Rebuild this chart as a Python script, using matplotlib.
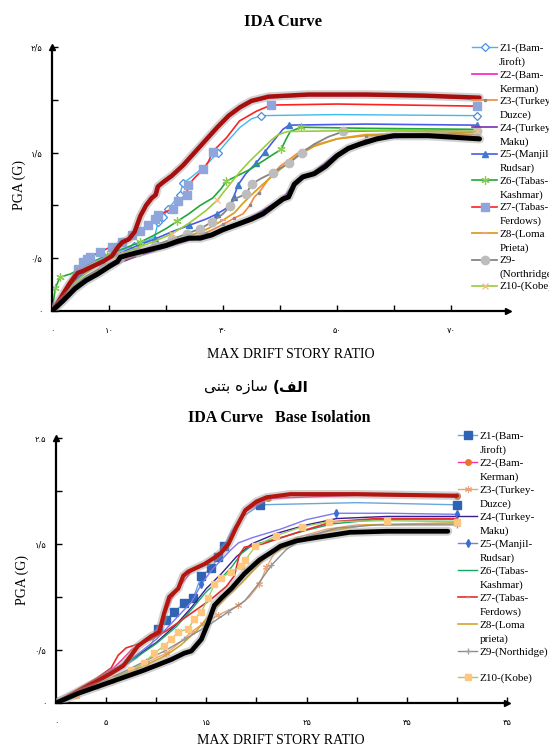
import matplotlib
matplotlib.use("Agg")
import matplotlib.pyplot as plt
import matplotlib.patheffects as pe
from matplotlib import font_manager
from matplotlib.ft2font import FT2Font

W, H = 549, 749

# ---------------- data: top panel (concrete structure) ----------------
top_xticks = [0, 10, 20, 30, 40, 50, 60, 70]
top_xticklabels = ["۰", "۱۰", "", "۳۰", "", "۵۰", "", "۷۰"]
top_yticks = [0, 0.5, 1.0, 1.5, 2.0, 2.5]
top_yticklabels = ["۰", "۰/۵", "", "۱/۵", "", "۲/۵"]
top_labels = ["Z1-(Bam-\nJiroft)", "Z2-(Bam-\nKerman)", "Z3-(Turkey-\nDuzce)",
              "Z4-(Turkey-\nMaku)", "Z5-(Manjil-\nRudsar)", "Z6-(Tabas-\nKashmar)",
              "Z7-(Tabas-\nFerdows)", "Z8-(Loma\nPrieta)", "Z9-\n(Northridge)",
              "Z10-(Kobe)"]

t_hi_x = [0, 1.5, 3, 4.5, 5.5, 7, 9, 10.5, 11.5, 12.3, 13.5, 14.5, 15.5, 16.5, 17.5, 18.2,
          18.6, 19.5, 21, 23, 25, 27, 29, 31, 33, 35, 38, 45, 55, 65, 75]
t_hi_y = [0, 0.12, 0.25, 0.36, 0.38, 0.42, 0.47, 0.52, 0.60, 0.65, 0.68, 0.75, 0.90, 1.00,
          1.07, 1.10, 1.18, 1.22, 1.28, 1.38, 1.50, 1.62, 1.74, 1.85, 1.93, 1.99, 2.03, 2.05,
          2.05, 2.04, 2.02]
t_lo_x = [0, 2, 4, 6, 8, 10, 11.5, 12, 14, 17, 20, 22, 24, 26, 28, 30, 32, 35, 37, 39, 40.5,
          41.5, 42.5, 44, 46, 48, 50, 52, 54, 57, 60, 66, 75]
t_lo_y = [0, 0.10, 0.21, 0.29, 0.35, 0.42, 0.47, 0.51, 0.54, 0.58, 0.62, 0.66, 0.69, 0.69,
          0.72, 0.77, 0.81, 0.87, 0.92, 1.00, 1.06, 1.08, 1.20, 1.27, 1.30, 1.37, 1.47, 1.54,
          1.58, 1.63, 1.66, 1.66, 1.63]

t_z1_x = [0, 3, 6, 9, 12, 14.3, 16.5, 18, 18.6, 19.5, 20.4, 21.5, 22.4, 23, 24.5, 27, 29.1,
          31, 33, 35, 36.7, 50, 74.6]
t_z1_y = [0, 0.25, 0.40, 0.50, 0.57, 0.62, 0.66, 0.70, 0.84, 0.89, 0.97, 1.04, 1.10, 1.21,
          1.27, 1.38, 1.50, 1.62, 1.74, 1.82, 1.85, 1.86, 1.85]
t_z1_m = [14.3, 18.6, 19.5, 20.4, 22.4, 23, 29.1, 36.7, 74.6]

t_z2_x = [0, 1.5, 3, 4.5, 5.5, 7, 9, 10.5, 11.5, 12.3, 13.5, 14.5, 15.5, 16.3, 17.2, 17.9,
          18.3, 19.5, 21, 23, 25, 27, 29, 31, 33, 35, 38, 45, 55, 65, 75]
t_z2_y = [0, 0.13, 0.26, 0.36, 0.39, 0.43, 0.48, 0.53, 0.61, 0.65, 0.68, 0.76, 0.90, 1.00,
          1.07, 1.10, 1.18, 1.21, 1.27, 1.37, 1.49, 1.61, 1.73, 1.84, 1.92, 1.98, 2.02, 2.04,
          2.04, 2.03, 2.01]

t_z3_x = [0, 3, 6, 9, 12, 15, 18, 21, 24, 27, 30, 32, 33.5, 34.7, 35.5, 36.3, 38, 40, 43,
          46, 50, 55, 74.6]
t_z3_y = [0, 0.18, 0.30, 0.40, 0.47, 0.53, 0.58, 0.63, 0.68, 0.74, 0.82, 0.88, 0.92, 1.00,
          1.08, 1.12, 1.25, 1.37, 1.49, 1.57, 1.63, 1.66, 1.67]
t_z3_m = [27, 30, 32, 34.7, 36.3, 55, 74.6]

t_z4_x = [0, 3, 6, 9, 12, 15, 18, 21, 24, 27, 30, 33, 36, 39, 41, 43, 46, 50, 55, 74.6]
t_z4_y = [0, 0.16, 0.28, 0.38, 0.46, 0.52, 0.57, 0.62, 0.67, 0.70, 0.76, 0.84, 0.92, 1.02,
          1.10, 1.24, 1.32, 1.49, 1.62, 1.70]

t_z5_x = [0, 3, 6, 9, 12, 15, 18, 21, 24, 27, 29, 30.5, 31.2, 31.9, 32.6, 34, 35.8, 37.4,
          39, 40.5, 41.6, 55, 74.6]
t_z5_y = [0, 0.24, 0.38, 0.48, 0.55, 0.62, 0.68, 0.75, 0.81, 0.87, 0.92, 0.97, 1.00, 1.08,
          1.19, 1.30, 1.40, 1.51, 1.62, 1.72, 1.76, 1.77, 1.76]
t_z5_m = [18, 24, 29, 31.9, 32.6, 35.8, 37.4, 41.6, 74.6]

t_z6_x = [0, 0.6, 1.4, 3.2, 5, 7, 9.6, 12, 15.4, 18, 20, 22, 24, 26, 28.2, 29.7, 30.6, 32.5,
          34.7, 37, 39, 40.2, 41, 41.8, 43.7, 55, 74.6]
t_z6_y = [0, 0.22, 0.32, 0.35, 0.40, 0.46, 0.53, 0.58, 0.65, 0.72, 0.78, 0.85, 0.92, 1.00,
          1.07, 1.16, 1.23, 1.28, 1.34, 1.42, 1.49, 1.53, 1.62, 1.70, 1.74, 1.73, 1.72]
t_z6_m = [0.6, 1.4, 5, 9.6, 15.4, 22, 30.6, 40.2, 43.7]

t_z7_x = [0, 1.5, 3, 4.5, 5.5, 6.1, 6.7, 8.4, 10.5, 12.2, 14, 15.4, 16.9, 18, 18.6, 21.3,
          22.1, 23.6, 23.9, 25, 26.5, 27.5, 28.2, 30.6, 32.9, 35.8, 38.4, 50, 74.6]
t_z7_y = [0, 0.15, 0.28, 0.40, 0.46, 0.49, 0.51, 0.56, 0.61, 0.65, 0.72, 0.76, 0.81, 0.87,
          0.91, 0.97, 1.04, 1.10, 1.19, 1.26, 1.34, 1.42, 1.51, 1.64, 1.80, 1.89, 1.95, 1.96,
          1.94]
t_z7_m = [4.5, 5.5, 6.1, 6.7, 8.4, 10.5, 12.2, 14, 15.4, 16.9, 18, 18.6, 21.3, 22.1, 23.6,
          23.9, 26.5, 28.2, 38.4, 74.6]

t_z8_x = [0, 3, 6, 9, 12, 15, 18, 21, 24, 27, 30, 32, 33.5, 35, 37, 40, 43, 46, 50, 55, 74.6]
t_z8_y = [0, 0.19, 0.32, 0.42, 0.49, 0.55, 0.60, 0.66, 0.71, 0.77, 0.86, 0.93, 1.02, 1.10,
          1.20, 1.34, 1.47, 1.56, 1.63, 1.67, 1.69]
t_z8_m = [9, 15, 21, 30, 74.6]

t_z9_x = [0, 3, 6, 9, 12, 15, 18, 21, 23.6, 26, 28, 30, 31.2, 32, 34.1, 35, 36.5, 38.7,
          41.6, 43.9, 46, 48.5, 51.1, 60, 74.6]
t_z9_y = [0, 0.20, 0.33, 0.42, 0.50, 0.56, 0.62, 0.68, 0.73, 0.78, 0.84, 0.92, 0.99, 1.06,
          1.11, 1.20, 1.25, 1.31, 1.40, 1.50, 1.58, 1.65, 1.70, 1.71, 1.70]
t_z9_m = [9, 12, 15, 18, 21, 23.6, 26, 28, 31.2, 34.1, 35, 38.7, 41.6, 43.9, 51.1, 74.6]

t_z10_x = [0, 3, 6, 9, 12, 15, 18, 21, 24, 27, 29, 31.2, 33, 34.7, 36.8, 38.5, 39.7, 41.4,
           55, 74.6]
t_z10_y = [0, 0.22, 0.36, 0.47, 0.54, 0.60, 0.66, 0.73, 0.83, 0.95, 1.05, 1.20, 1.32, 1.42,
           1.53, 1.62, 1.67, 1.70, 1.71, 1.70]
t_z10_m = [12, 21, 29, 74.6]

# ---------------- data: bottom panel (base isolation) ----------------
bot_xticks = [0, 5, 10, 15, 20, 25, 30, 35, 40, 45]
bot_xticklabels = ["۰", "۵", "", "۱۵", "", "۲۵", "", "۳۵", "", "۴۵"]
bot_yticks = [0, 0.5, 1.0, 1.5, 2.0, 2.5]
bot_yticklabels = ["۰", "۰/۵", "", "۱/۵", "", "۲.۵"]
bot_labels = ["Z1-(Bam-\nJiroft)", "Z2-(Bam-\nKerman)", "Z3-(Turkey-\nDuzce)",
              "Z4-(Turkey-\nMaku)", "Z5-(Manjil-\nRudsar)", "Z6-(Tabas-\nKashmar)",
              "Z7-(Tabas-\nFerdows)", "Z8-(Loma\nprieta)", "Z9-(Northidge)\n ",
              "Z10-(Kobe)"]

b_hi_x = [0, 2.2, 4, 5.5, 6.7, 7.5, 8.2, 9.5, 10.3, 10.8, 11.3, 12.2, 12.7, 13.2, 14.8,
          15.8, 16.5, 17.2, 18, 18.9, 20, 21, 23.4, 30, 40]
b_hi_y = [0, 0.11, 0.20, 0.28, 0.35, 0.45, 0.54, 0.63, 0.67, 0.85, 1.00, 1.08, 1.20, 1.24,
          1.31, 1.37, 1.42, 1.50, 1.66, 1.82, 1.90, 1.94, 1.97, 1.97, 1.955]
b_lo_x = [0, 2.2, 5.5, 8.8, 11.5, 12.8, 13.5, 14.5, 15.2, 15.8, 16.5, 17.5, 18.8, 20.3,
          21.3, 22.4, 24, 25.9, 29.3, 33, 39.1]
b_lo_y = [0, 0.09, 0.20, 0.31, 0.41, 0.47, 0.49, 0.60, 0.76, 0.92, 0.99, 1.08, 1.22, 1.35,
          1.41, 1.48, 1.53, 1.56, 1.61, 1.62, 1.62]

b_z1_x = [0, 2, 4, 6, 8, 9.5, 10.2, 11, 11.8, 12.8, 13.7, 14.5, 15.5, 16.2, 16.8, 17.5,
          18.5, 20.4, 30, 40]
b_z1_y = [0, 0.10, 0.20, 0.30, 0.42, 0.55, 0.70, 0.78, 0.86, 0.94, 0.99, 1.20, 1.27, 1.38,
          1.48, 1.62, 1.75, 1.87, 1.89, 1.87]
b_z1_m = [10.2, 11, 11.8, 12.8, 13.7, 14.5, 15.5, 16.2, 16.8, 20.4, 40]

b_z2_x = [0, 2, 4, 5.5, 6.5, 7.5, 8.5, 9.5, 10.5, 11.5, 12.5, 13.5, 15, 16.5, 17.5, 18.8,
          21.2, 30, 40]
b_z2_y = [0, 0.12, 0.22, 0.31, 0.40, 0.50, 0.56, 0.62, 0.75, 0.98, 1.12, 1.24, 1.32, 1.43,
          1.56, 1.80, 1.93, 1.96, 1.95]
b_z2_m = [21.2, 40]

b_z3_x = [0, 3, 6, 9, 11, 12.5, 13.5, 14.7, 16.2, 18.2, 19.3, 20.3, 21, 21.7, 22.5, 24, 27,
          30, 40]
b_z3_y = [0, 0.12, 0.25, 0.38, 0.47, 0.58, 0.67, 0.75, 0.83, 0.92, 1.00, 1.12, 1.28, 1.40,
          1.48, 1.56, 1.64, 1.68, 1.69]
b_z3_m = [6, 9, 11, 13.5, 14.7, 16.2, 18.2, 20.3, 21, 40]

b_z4_x = [0, 2, 4, 6, 8, 10, 12, 13.5, 15, 16.5, 18, 19.5, 22, 25, 28, 33, 40]
b_z4_y = [0, 0.11, 0.22, 0.33, 0.44, 0.57, 0.74, 0.90, 1.08, 1.22, 1.38, 1.50, 1.60, 1.68,
          1.74, 1.76, 1.76]

b_z5_x = [0, 2, 4, 6, 8, 10, 12, 13.5, 14.5, 15.5, 16.5, 17.5, 18.2, 19.6, 22.4, 25, 27.9,
          33, 40]
b_z5_y = [0, 0.11, 0.22, 0.33, 0.45, 0.60, 0.80, 0.95, 1.12, 1.25, 1.35, 1.45, 1.51, 1.56,
          1.64, 1.73, 1.79, 1.79, 1.78]
b_z5_m = [14.5, 27.9, 40]

b_z6_x = [0, 2, 4, 6, 8, 10, 12, 13.5, 15, 16.5, 17.5, 18.5, 19.6, 22.4, 25, 27.6, 32, 40]
b_z6_y = [0, 0.11, 0.22, 0.32, 0.43, 0.56, 0.72, 0.88, 1.05, 1.18, 1.28, 1.41, 1.49, 1.56,
          1.63, 1.69, 1.73, 1.73]

b_z7_x = [0, 2, 4, 5.5, 6.2, 7, 8, 9.5, 11, 12.5, 14, 15.5, 17, 17.8, 18.3, 18.8, 20.6, 24.1,
          27.6, 32, 40]
b_z7_y = [0, 0.12, 0.23, 0.33, 0.45, 0.52, 0.55, 0.60, 0.68, 0.78, 0.88, 0.98, 1.10, 1.20,
          1.40, 1.47, 1.50, 1.61, 1.71, 1.74, 1.74]
b_z7_m = [40]

b_z8_x = [0, 3, 6, 9, 11, 12.5, 14, 15.5, 17, 18.5, 20, 21, 23.9, 27, 31, 40]
b_z8_y = [0, 0.12, 0.24, 0.36, 0.45, 0.55, 0.68, 0.85, 1.00, 1.13, 1.28, 1.38, 1.52, 1.62,
          1.68, 1.70]

b_z9_x = [0, 3, 6, 9, 11, 12.8, 15, 17.2, 18.8, 20, 21.5, 23, 25, 28, 32, 40]
b_z9_y = [0, 0.13, 0.26, 0.40, 0.50, 0.60, 0.72, 0.86, 0.96, 1.10, 1.30, 1.45, 1.57, 1.65,
          1.68, 1.68]
b_z9_m = [9, 12.8, 17.2, 21.5, 40]

b_z10_x = [0, 2, 4, 5.5, 7.5, 8.8, 9.8, 10.8, 11.5, 12.2, 13.2, 13.8, 14.5, 15.2, 15.8, 16.5,
           17.5, 18.5, 18.9, 19.9, 22, 24.5, 27.2, 33, 40]
b_z10_y = [0, 0.08, 0.16, 0.22, 0.31, 0.38, 0.47, 0.54, 0.60, 0.67, 0.70, 0.79, 0.86, 0.99,
           1.12, 1.18, 1.24, 1.29, 1.35, 1.48, 1.58, 1.66, 1.71, 1.72, 1.71]

# ---------------- helpers ----------------
def fx(px):
    return px / W

def fy(py):
    return 1 - py / H

def font_has(family, chars, weight="normal"):
    try:
        path = font_manager.findfont(font_manager.FontProperties(family=family, weight=weight),
                                     fallback_to_default=False)
        cmap = FT2Font(path).get_charmap()
        return all(ord(c) in cmap for c in chars if not c.isspace())
    except Exception:
        return False

def marks(xs, mx):
    return [i for i, v in enumerate(xs) if v in mx]

SERIF = "Liberation Serif"
PERS = "DejaVu Sans"

fig = plt.figure(figsize=(W / 100, H / 100), dpi=100)
fig.patch.set_facecolor("white")

shadow = lambda lw: [pe.Stroke(linewidth=lw + 3, foreground="#9a9a9a", alpha=0.45), pe.Normal()]


def style_axes(ax, xlim, xticks, xtl, yticks, ytl):
    ax.set_xlim(*xlim)
    ax.set_ylim(0, 2.5)
    for s in ("top", "right"):
        ax.spines[s].set_visible(False)
    for s in ("left", "bottom"):
        ax.spines[s].set_linewidth(1.6)
        ax.spines[s].set_color("black")
    ax.set_xticks(xticks)
    ax.set_xticklabels(xtl, family=PERS, fontsize=6)
    ax.set_yticks(yticks)
    ax.set_yticklabels(ytl, family=PERS, fontsize=6)
    ax.tick_params(axis="x", direction="in", length=4, width=1, pad=11)
    ax.tick_params(axis="y", direction="in", length=4, width=1, pad=7)
    ax.plot(1, 0, ">k", ms=5, transform=ax.get_yaxis_transform(), clip_on=False)
    ax.plot(0, 1, "^k", ms=5, transform=ax.get_xaxis_transform(), clip_on=False)


def tune_legend(leg, spacing):
    for t in leg.get_texts():
        t.set_linespacing(spacing)
    for col in leg._legend_handle_box.get_children():
        for entry in col.get_children():
            entry.align = "top"


# ---------------- top panel ----------------
ax1 = fig.add_axes([fx(52), fy(311), fx(508) - fx(52), fy(47) - fy(311)])
style_axes(ax1, (0, 80), top_xticks, top_xticklabels, top_yticks, top_yticklabels)

h = []
h += ax1.plot(t_z1_x, t_z1_y, color="#40B8F0", lw=1.0, marker="D", ms=4.5, mfc="white",
              mec="#4A8FE0", mew=0.9, markevery=marks(t_z1_x, t_z1_m))
h += ax1.plot(t_z2_x, t_z2_y, color="#FF2BC8", lw=1.3)
h += ax1.plot(t_z3_x, t_z3_y, color="#F7883A", lw=1.2, marker="s", ms=2, mfc="#8a8a8a",
              mec="#8a8a8a", markevery=marks(t_z3_x, t_z3_m))
h += ax1.plot(t_z4_x, t_z4_y, color="#7A2FB0", lw=1.2)
h += ax1.plot(t_z5_x, t_z5_y, color="#4B5AE8", lw=1.2, marker="^", ms=5, mfc="#3F7BCB",
              mec="#3F7BCB", markevery=marks(t_z5_x, t_z5_m))
h += ax1.plot(t_z6_x, t_z6_y, color="#1FA83A", lw=1.2, marker=(6, 2, 0), ms=6, mec="#8CCB55",
              mew=0.9, markevery=marks(t_z6_x, t_z6_m))
h += ax1.plot(t_z7_x, t_z7_y, color="#FF2020", lw=1.2, marker="s", ms=6, mfc="#8EA6DB",
              mec="#8EA6DB", markevery=marks(t_z7_x, t_z7_m))
h += ax1.plot(t_z8_x, t_z8_y, color="#D8A21E", lw=1.3, marker="_", ms=4, mec="#F29A8E",
              mew=1.5, markevery=marks(t_z8_x, t_z8_m))
h += ax1.plot(t_z9_x, t_z9_y, color="#858585", lw=1.3, marker="o", ms=6, mfc="#BDBDBD",
              mec="#BDBDBD", markevery=marks(t_z9_x, t_z9_m))
h += ax1.plot(t_z10_x, t_z10_y, color="#9CCB3C", lw=1.2, marker="x", ms=4, mec="#F4BE8C",
              mew=1.0, markevery=marks(t_z10_x, t_z10_m))
ax1.plot(t_hi_x, t_hi_y, color="#A80E0E", lw=3.2, zorder=4, solid_capstyle="round",
         path_effects=shadow(3.2))
ax1.plot(t_lo_x, t_lo_y, color="black", lw=3.6, zorder=4, solid_capstyle="round",
         path_effects=shadow(3.6))

leg1 = ax1.legend(h, top_labels, loc="upper left", bbox_to_anchor=(fx(472), fy(43)),
                  bbox_transform=fig.transFigure, frameon=False, borderpad=0,
                  borderaxespad=0, handlelength=2.25, handletextpad=0.2, labelspacing=0.26,
                  numpoints=1, prop={"family": SERIF, "size": 8})
tune_legend(leg1, 1.6)

# ---------------- bottom panel ----------------
ax2 = fig.add_axes([fx(56), fy(703), fx(507) - fx(56), fy(438) - fy(703)])
style_axes(ax2, (0, 45), bot_xticks, bot_xticklabels, bot_yticks, bot_yticklabels)

g = []
g += ax2.plot(b_z1_x, b_z1_y, color="#6AA6DC", lw=1.0, marker="s", ms=6, mfc="#2F63B3",
              mec="#2F63B3", markevery=marks(b_z1_x, b_z1_m))
g += ax2.plot(b_z2_x, b_z2_y, color="#FF2E9A", lw=1.0, marker="o", ms=4, mfc="#E5782A",
              mec="#E5782A", markevery=marks(b_z2_x, b_z2_m))
g += ax2.plot(b_z3_x, b_z3_y, color="#E9A57A", lw=1.0, marker=(6, 2, 0), ms=5, mec="#E9A57A",
              mew=0.8, markevery=marks(b_z3_x, b_z3_m))
g += ax2.plot(b_z4_x, b_z4_y, color="#3A1E8E", lw=1.0)
g += ax2.plot(b_z5_x, b_z5_y, color="#7D78EE", lw=1.0, marker="d", ms=4, mfc="#3A6FD2",
              mec="#3A6FD2", markevery=marks(b_z5_x, b_z5_m))
g += ax2.plot(b_z6_x, b_z6_y, color="#16A763", lw=1.0)
g += ax2.plot(b_z7_x, b_z7_y, color="#E42E2E", lw=1.2, marker="_", ms=3, mec="#9a9a9a",
              markevery=marks(b_z7_x, b_z7_m))
g += ax2.plot(b_z8_x, b_z8_y, color="#D6A62A", lw=1.2)
g += ax2.plot(b_z9_x, b_z9_y, color="#8E8E8E", lw=1.0, marker="+", ms=4, mec="#A0A0A0",
              markevery=marks(b_z9_x, b_z9_m))
g += ax2.plot(b_z10_x, b_z10_y, color="#A2CF62", lw=1.0, marker="s", ms=5, mfc="#FFC67E",
              mec="#FFC67E")
ax2.plot(b_hi_x, b_hi_y, color="#B3150F", lw=3.0, zorder=4, solid_capstyle="round",
         path_effects=shadow(3.0))
ax2.plot(b_lo_x, b_lo_y, color="black", lw=3.4, zorder=4, solid_capstyle="round",
         path_effects=shadow(3.4))

leg2 = ax2.legend(g, bot_labels, loc="upper left", bbox_to_anchor=(fx(458), fy(431)),
                  bbox_transform=fig.transFigure, frameon=False, borderpad=0,
                  borderaxespad=0, handlelength=1.75, handletextpad=0.2, labelspacing=0.3,
                  numpoints=1, prop={"family": SERIF, "size": 8})
tune_legend(leg2, 1.6)

# ---------------- texts ----------------
fig.text(fx(283), fy(22), "IDA Curve", ha="center", va="center", family=SERIF,
         weight="bold", fontsize=12)
fig.text(fx(279), fy(418), "IDA Curve   Base Isolation", ha="center", va="center",
         family=SERIF, weight="bold", fontsize=11.5)
fig.text(fx(291), fy(355), "MAX DRIFT STORY RATIO", ha="center", va="center",
         family=SERIF, fontsize=10)
fig.text(fx(281), fy(741), "MAX DRIFT STORY RATIO", ha="center", va="center",
         family=SERIF, fontsize=10)
fig.text(fx(19), fy(185), "PGA (G)", ha="center", va="center", rotation=90,
         family=SERIF, fontsize=10)
fig.text(fx(22), fy(580), "PGA (G)", ha="center", va="center", rotation=90,
         family=SERIF, fontsize=10)

# Persian caption "الف) سازه بتنی", shaped with presentation forms, in visual order
yeh_final = "\uFBFD" if font_has(PERS, "\uFBFD") else "\uFEF0"
cap_regular = yeh_final + "\uFEE8\uFE98\uFE91" + " " + "\uFEE9\uFEAF\uFE8E\uFEB3" + " "
cap_bold = "(\uFED2\uFEDF\uFE8D"
bold_w = "bold" if font_has(PERS, cap_bold, "bold") else "normal"
tb = fig.text(fx(309), fy(387), cap_bold, ha="right", va="center", family=PERS,
              weight=bold_w, fontsize=11)
fig.canvas.draw()
bb = tb.get_window_extent(fig.canvas.get_renderer())
fig.text(bb.x0 / W, fy(387), cap_regular, ha="right", va="center", family=PERS,
         fontsize=11)

fig.savefig("out.png", dpi=100, facecolor="white")
